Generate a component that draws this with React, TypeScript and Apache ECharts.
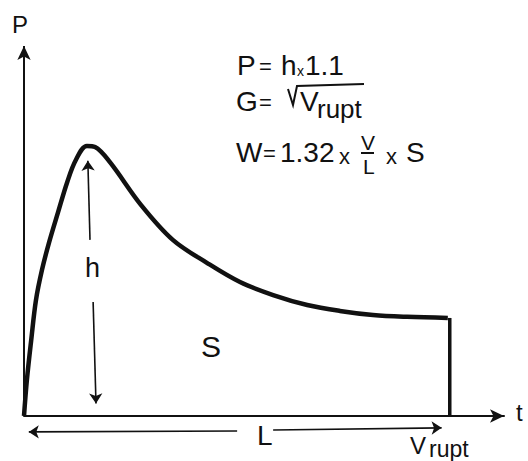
import React, { useEffect, useRef } from "react";
import * as echarts from "echarts";

// Curve of load P versus time t (schematic units: t 0..100, P 0..100)
const curveT = [0, 0.6, 1.5, 2.5, 3.75, 5.2, 7.1, 9.0, 10.8, 13.1, 14.8, 17.9, 24.4, 31.0, 38.1, 45.0, 51.9, 59.0, 65.8, 72.7, 79.8, 88.3];
const curveP = [0, 9.7, 20.5, 31.4, 39.5, 46.8, 55.1, 63.2, 69.2, 73.0, 72.7, 68.6, 57.0, 47.6, 41.4, 36.2, 32.7, 30.0, 28.4, 27.3, 26.8, 26.5];
// Rupture drop
const ruptT = [88.7, 88.7];
const ruptP = [26.5, 0];
// P axis (vertical, with arrow)
const pAxis = [[0, 0], [0, 100]];
// Annotation arrows [from, to]
const hArrows = [
  [[13.75, 47.6], [13.3, 69.0]],
  [[14.4, 30.8], [15.0, 3.4]],
];
const lArrows = [
  [[44.4, -4.05], [1.0, -4.3]],
  [[51.9, -3.8], [87.0, -3.2]],
];

const FONT = "Liberation Sans";

export default function App() {
  const ref = useRef<HTMLDivElement>(null);
  useEffect(() => {
    if (!ref.current) return;
    const chart = echarts.init(ref.current, undefined, { renderer: "svg" });
    const txt = (text: string, x: number, y: number, size: number) => ({
      type: "text",
      x,
      y,
      style: { text, font: `${size}px "${FONT}"`, fill: "#111", align: "left", verticalAlign: "middle" },
      silent: true,
    });
    const arrowLines = (pairs: number[][][]) =>
      pairs.map((p) => [{ coord: p[0] }, { coord: p[1] }]);
    chart.setOption({
      animation: false,
      backgroundColor: "#fff",
      grid: { left: 24, right: 24, top: 46, bottom: 8 },
      xAxis: {
        type: "value",
        min: 0,
        max: 100,
        axisLine: { show: true, onZero: true, symbol: ["none", "arrow"], symbolSize: [10, 14], lineStyle: { color: "#111", width: 2 } },
        axisTick: { show: false },
        axisLabel: { show: false },
        splitLine: { show: false },
      },
      yAxis: {
        type: "value",
        min: -10,
        max: 100,
        axisLine: { show: false },
        axisTick: { show: false },
        axisLabel: { show: false },
        splitLine: { show: false },
      },
      series: [
        {
          type: "line",
          smooth: 0.35,
          symbol: "none",
          clip: false,
          lineStyle: { color: "#111", width: 4.5 },
          data: curveT.map((t, i) => [t, curveP[i]]),
          markLine: {
            silent: true,
            symbol: ["none", "arrow"],
            symbolSize: 10,
            label: { show: false },
            lineStyle: { color: "#111", width: 1.6, type: "solid" },
            data: [...arrowLines(hArrows), ...arrowLines(lArrows)],
          },
        },
        {
          type: "line",
          symbol: "none",
          clip: false,
          lineStyle: { color: "#111", width: 3.5 },
          data: ruptT.map((t, i) => [t, ruptP[i]]),
          markLine: {
            silent: true,
            symbol: ["none", "arrow"],
            symbolSize: [10, 14],
            label: { show: false },
            lineStyle: { color: "#111", width: 2, type: "solid" },
            data: [[{ coord: pAxis[0] }, { coord: pAxis[1] }]],
          },
        },
      ],
      graphic: [
        txt("P", 12, 24, 24),
        txt("t", 516, 412, 24),
        txt("h", 85, 268, 27),
        txt("S", 201, 346, 30),
        txt("L", 257, 435, 28),
        txt("V", 410, 445, 24),
        txt("rupt", 429, 449, 23),
        // formula 1
        txt("P", 237, 65, 28),
        txt("=", 259, 66, 22),
        txt("h", 281, 65, 28),
        txt("x", 297, 71, 14),
        txt("1.1", 305, 65, 28),
        // formula 2
        txt("G", 236, 101, 28),
        txt("=", 259, 102, 22),
        {
          type: "polyline",
          shape: { points: [[288, 89], [293, 105], [297, 86], [364, 84]] },
          style: { stroke: "#111", lineWidth: 2, fill: "none" },
          silent: true,
        },
        txt("V", 300, 101, 28),
        txt("rupt", 317, 109, 26),
        // formula 3
        txt("W", 236, 152, 28),
        txt("=", 263, 153, 22),
        txt("1.32", 280, 152, 28),
        txt("x", 339, 156, 22),
        txt("V", 361, 142, 21),
        {
          type: "line",
          shape: { x1: 361, y1: 153, x2: 374, y2: 153 },
          style: { stroke: "#111", lineWidth: 2 },
          silent: true,
        },
        txt("L", 363, 166, 21),
        txt("x", 386, 156, 22),
        txt("S", 406, 152, 28),
      ],
    });
    return () => chart.dispose();
  }, []);
  return <div ref={ref} style={{ position: "fixed", left: 0, top: 0, width: 528, height: 461 }} />;
}
